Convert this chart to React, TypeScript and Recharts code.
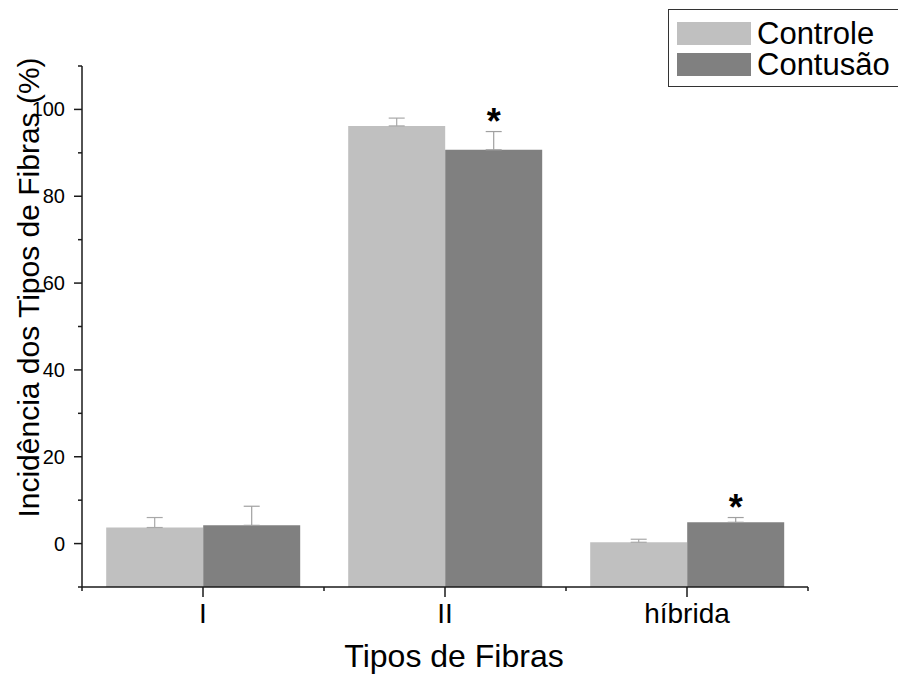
import React from 'react';
import { BarChart, Bar, XAxis, YAxis, ErrorBar, LabelList, Legend } from 'recharts';

document.body.style.margin = '0';

const categories = ['I', 'II', 'híbrida'];
const controle = [3.7, 96.2, 0.3];
const controleErr = [2.3, 1.8, 0.7];
const contusao = [4.2, 90.7, 4.9];
const contusaoErr = [4.4, 4.2, 1.1];
const contusaoSig = ['', '*', '*'];

const yDomain = [-10, 110];
const yTicks = [-10, 0, 10, 20, 30, 40, 50, 60, 70, 80, 90, 100, 110];
const yLabelStep = 20;

const series = [
  { key: 'controle', name: 'Controle', color: '#c0c0c0' },
  { key: 'contusao', name: 'Contusão', color: '#808080' },
];

// bars start at the bottom of the axis (Origin style), so they are ranges
const data = categories.map((name, i) => ({
  name,
  controle: [yDomain[0], controle[i]],
  controleErr: [0, controleErr[i]],
  contusao: [yDomain[0], contusao[i]],
  contusaoErr: [0, contusaoErr[i]],
  sig: contusaoSig[i],
}));

const axisColor = '#1a1a1a';
const Y_TICK = 8;
const Y_MARGIN = 9;
const X_TICK = 10;
const X_MARGIN = 6;

function LegendBox(props: any) {
  const items = props.payload || [];
  return (
    <div
      style={{
        position: 'relative',
        width: 240,
        height: 78,
        border: '1px solid #333',
        background: '#fff',
        boxSizing: 'border-box',
      }}
    >
      {items.map((item: any, i: number) => (
        <div
          key={item.value}
          style={{ position: 'absolute', left: 8, top: 12 + i * 31, display: 'flex', alignItems: 'center' }}
        >
          <span style={{ display: 'inline-block', width: 74, height: 23, background: item.color }} />
          <span style={{ marginLeft: 6, fontSize: 31, lineHeight: '23px', color: '#000' }}>{item.value}</span>
        </div>
      ))}
    </div>
  );
}

// major ticks with labels every 20, short minor ticks in between
function YTick(props: any) {
  const { x, y, payload } = props;
  const axisX = x + Y_TICK + Y_MARGIN;
  const v = payload.value;
  const major = v % yLabelStep === 0;
  return (
    <g>
      <line x1={axisX - (major ? Y_TICK : 4)} x2={axisX} y1={y} y2={y} stroke={axisColor} strokeWidth={1.5} />
      {major && (
        <text x={x} y={y} textAnchor="end" dominantBaseline="central" fontSize={20} fill="#000">
          {v}
        </text>
      )}
    </g>
  );
}

// category tick at the centre, short ticks at the category boundaries
function XTick(props: any) {
  const { x, y, payload, index, width } = props;
  const axisY = y - X_TICK - X_MARGIN;
  const band = (width || 726) / categories.length;
  return (
    <g>
      <line x1={x} x2={x} y1={axisY} y2={axisY + X_TICK} stroke={axisColor} strokeWidth={1.5} />
      <line x1={x + band / 2} x2={x + band / 2} y1={axisY} y2={axisY + 4} stroke={axisColor} strokeWidth={1.5} />
      {index === 0 && (
        <line x1={x - band / 2} x2={x - band / 2} y1={axisY} y2={axisY + 4} stroke={axisColor} strokeWidth={1.5} />
      )}
      <text x={x} y={y} dy="0.71em" textAnchor="middle" fontSize={28} fill="#000">
        {payload.value}
      </text>
    </g>
  );
}

function YTitle(props: any) {
  const vb = props.viewBox || {};
  const cx = vb.x + vb.width - 54;
  const cy = vb.y + vb.height / 2 - 39;
  return (
    <text x={cx} y={cy} transform={`rotate(-90 ${cx} ${cy})`} textAnchor="middle" dominantBaseline="central" fontSize={30} fill="#000">
      Incidência dos Tipos de Fibras (%)
    </text>
  );
}

function XTitle(props: any) {
  const vb = props.viewBox || {};
  return (
    <text x={vb.x + vb.width / 2 + 9} y={vb.y + 80} textAnchor="middle" fontSize={32} fill="#000">
      Tipos de Fibras
    </text>
  );
}

function renderSig(props: any) {
  const { x, y, width, height, index, value } = props;
  if (!value) return null;
  const h = Math.abs(height);
  const top = Math.min(y, y + height);
  const pxPerUnit = h / (contusao[index] - yDomain[0]);
  const errTop = top - contusaoErr[index] * pxPerUnit;
  return (
    <text x={x + width / 2} y={errTop + 2} textAnchor="middle" fontSize={36} fontWeight="bold" fill="#000">
      {value}
    </text>
  );
}

export default function App() {
  return (
    <div style={{ width: 898, height: 675, overflow: 'hidden', background: '#fff', fontFamily: '"Liberation Sans", Arial, sans-serif' }}>
      <BarChart
        width={898}
        height={675}
        data={data}
        margin={{ top: 66, right: 90, bottom: 38, left: 0 }}
        barCategoryGap="10%"
        barGap={0}
      >
        <XAxis
          dataKey="name"
          height={50}
          tickSize={X_TICK}
          tickMargin={X_MARGIN}
          tickLine={false}
          tick={<XTick />}
          axisLine={{ stroke: axisColor, strokeWidth: 1.5 }}
          label={(p: any) => <XTitle {...p} />}
        />
        <YAxis
          type="number"
          domain={yDomain}
          ticks={yTicks}
          interval={0}
          width={82}
          tickSize={Y_TICK}
          tickMargin={Y_MARGIN}
          tickLine={false}
          tick={<YTick />}
          axisLine={{ stroke: axisColor, strokeWidth: 1.5 }}
          label={(p: any) => <YTitle {...p} />}
        />
        <Legend
          content={LegendBox}
          layout="vertical"
          align="center"
          verticalAlign="middle"
          wrapperStyle={{ left: 668, top: 9, width: 240, height: 78 }}
        />
        <Bar dataKey="controle" name={series[0].name} fill={series[0].color} isAnimationActive={false}>
          <ErrorBar dataKey="controleErr" width={8} stroke="#a8a8a8" strokeWidth={1.2} direction="y" />
        </Bar>
        <Bar dataKey="contusao" name={series[1].name} fill={series[1].color} isAnimationActive={false}>
          <ErrorBar dataKey="contusaoErr" width={8} stroke="#a0a0a0" strokeWidth={1.2} direction="y" />
          <LabelList dataKey="sig" content={renderSig} />
        </Bar>
      </BarChart>
    </div>
  );
}
